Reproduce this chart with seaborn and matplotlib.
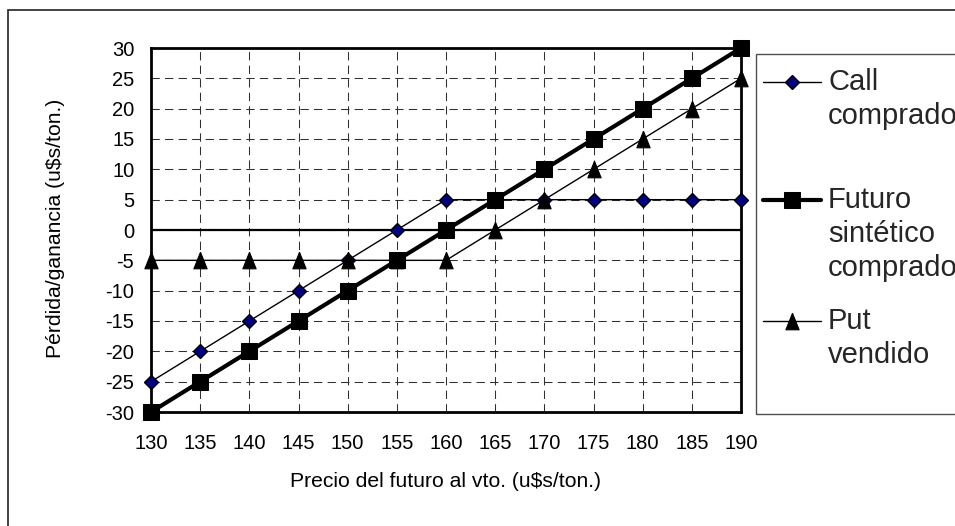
import matplotlib
matplotlib.use("Agg")
import matplotlib.pyplot as plt
import seaborn as sns
import pandas as pd
from matplotlib.legend_handler import HandlerLine2D
from matplotlib.patches import Rectangle

# ---------------- data ----------------
precio = [130, 135, 140, 145, 150, 155, 160, 165, 170, 175, 180, 185, 190]
call_comprado = [-25, -20, -15, -10, -5, 0, 5, 5, 5, 5, 5, 5, 5]
futuro_sintetico = [-30, -25, -20, -15, -10, -5, 0, 5, 10, 15, 20, 25, 30]
put_vendido = [-5, -5, -5, -5, -5, -5, -5, 0, 5, 10, 15, 20, 25]
y_ticks = [-30, -25, -20, -15, -10, -5, 0, 5, 10, 15, 20, 25, 30]
series_labels = ["Call\ncomprado", "Futuro\nsintético\ncomprado", "Put\nvendido"]
x_label = "Precio del futuro al vto. (u$s/ton.)"
y_label = "Pérdida/ganancia (u$s/ton.)"

sns.set_style("white")
plt.rcParams["font.family"] = ["Liberation Sans", "DejaVu Sans"]
plt.rcParams["axes.unicode_minus"] = False

W, H = 955, 526
fig = plt.figure(figsize=(W / 100, H / 100), dpi=100)
ax = fig.add_axes([151 / W, 1 - 412 / H, (741 - 151) / W, (412 - 48) / H])

df = pd.DataFrame({"precio": precio, "call": call_comprado,
                   "futuro": futuro_sintetico, "put": put_vendido})

tri = [(0, 0.5), (-0.4, -0.5), (0.4, -0.5), (0, 0.5)]

sns.lineplot(data=df, x="precio", y="call", ax=ax, color="black", lw=1.0,
             marker="D", markersize=7.5, markerfacecolor="#000080",
             markeredgecolor="black", markeredgewidth=1.0, clip_on=False, zorder=5)
l_call = ax.lines[-1]
sns.lineplot(data=df, x="precio", y="futuro", ax=ax, color="black", lw=3.0,
             marker="s", markersize=11.5, markerfacecolor="black",
             markeredgecolor="black", clip_on=False, zorder=6)
l_fut = ax.lines[-1]
sns.lineplot(data=df, x="precio", y="put", ax=ax, color="black", lw=1.0,
             marker=tri, markersize=12, markerfacecolor="black",
             markeredgecolor="black", clip_on=False, zorder=5)
l_put = ax.lines[-1]

ax.axhline(0, color="black", lw=1.6, zorder=3)

ax.set_xlim(130, 190)
ax.set_ylim(-30, 30)
ax.set_xticks(precio)
ax.set_yticks(y_ticks)
ax.grid(True, color="#303030", lw=0.75, linestyle=(0, (8, 5)))
ax.set_axisbelow(True)
for s in ax.spines.values():
    s.set_visible(True)
    s.set_color("black")
    s.set_linewidth(2.0)
ax.tick_params(axis="both", which="major", direction="out", length=5.0,
               width=1.0, color="black", labelsize=14.5, labelcolor="black")
ax.tick_params(axis="y", pad=7)
ax.tick_params(axis="x", pad=10.5)

ax.set_xlabel(x_label, fontsize=15.2, color="black")
ax.set_ylabel(y_label, fontsize=15.2, color="black")
ax.xaxis.set_label_coords(0.499, -0.166)
ax.yaxis.set_label_coords(-0.146, 0.505)

# outer chart frame and legend frame
fig.patches.append(Rectangle((8 / W, -0.1), 1.2, 1.1 - 10 / H,
                             transform=fig.transFigure, fill=False,
                             edgecolor="#222222", lw=1.2))
fig.patches.append(Rectangle((756 / W, 1 - 414 / H), 0.5, (414 - 54) / H,
                             transform=fig.transFigure, fill=False,
                             edgecolor="#505050", lw=1.0))

LEG_FS = 21
LINE_SP = 1.19


class FirstLineHandler(HandlerLine2D):
    def __init__(self, nlines, **kw):
        super().__init__(**kw)
        self.nlines = nlines

    def create_artists(self, legend, orig_handle, xdescent, ydescent,
                       width, height, fontsize, trans):
        shift = (self.nlines - 1) / 2 * LINE_SP * fontsize
        return super().create_artists(legend, orig_handle, xdescent,
                                      ydescent - 2 * shift, width, height,
                                      fontsize, trans)


tops = [68, 186, 307]
for line, lab, top in zip([l_call, l_fut, l_put], series_labels, tops):
    n = lab.count("\n") + 1
    leg = fig.legend(handles=[line], labels=[lab], loc="upper left",
                     bbox_to_anchor=(763 / W, 1 - top / H),
                     frameon=False, fontsize=LEG_FS, borderpad=0,
                     borderaxespad=0, handlelength=1.99, handletextpad=0.24,
                     numpoints=1,
                     handler_map={line: FirstLineHandler(n, numpoints=1)})
    for t in leg.get_texts():
        t.set_linespacing(1.27)

fig.savefig("out.png", dpi=100)
